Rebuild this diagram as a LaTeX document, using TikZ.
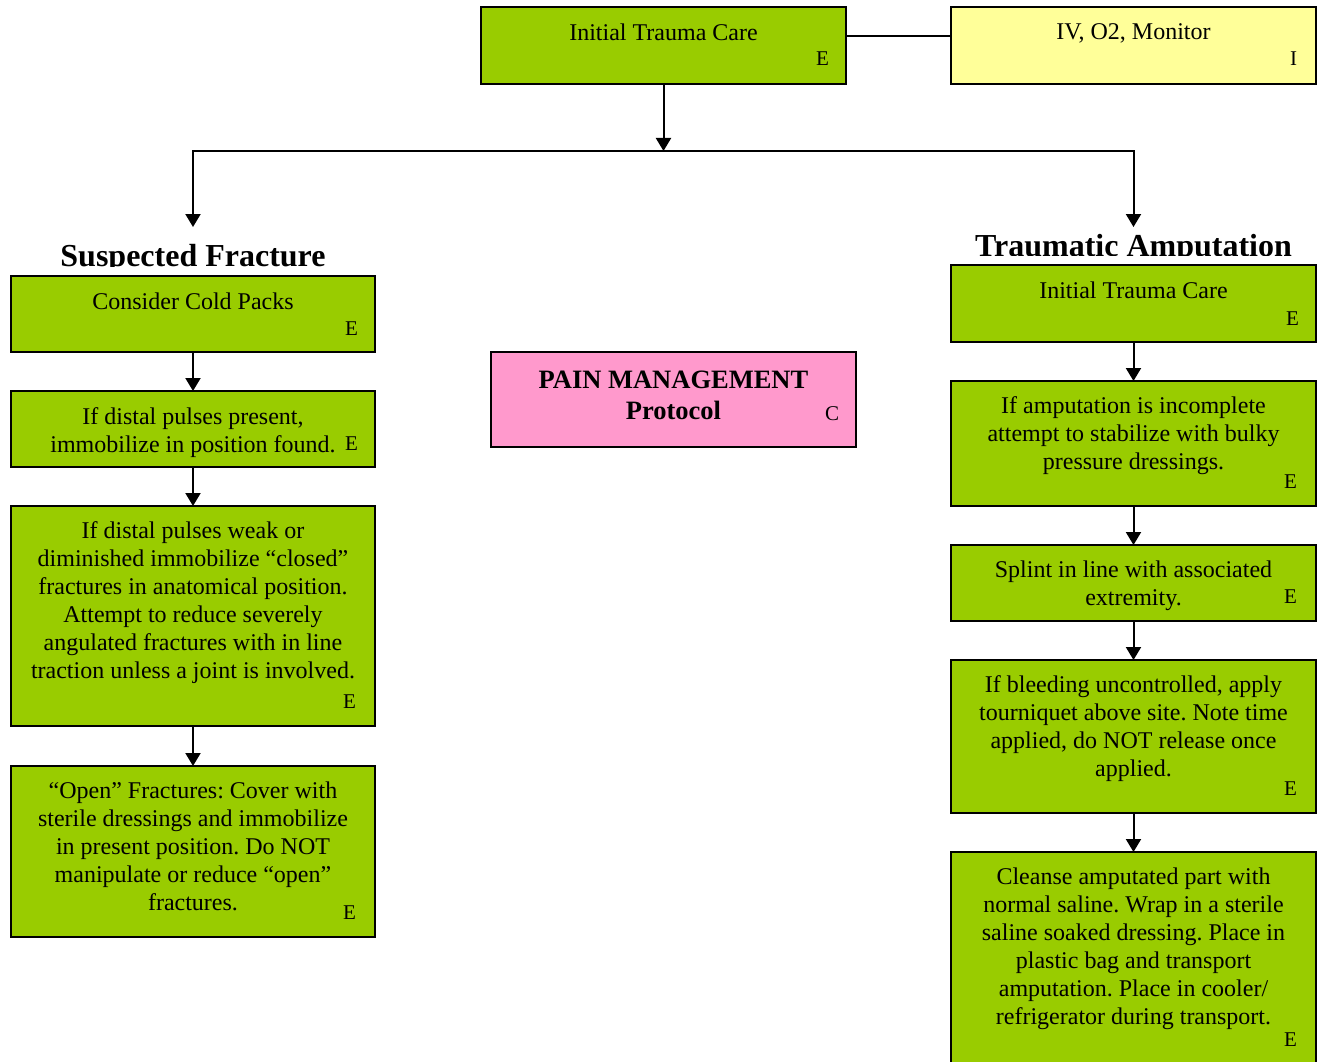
\documentclass[tikz,border=0pt]{standalone}
\usepackage{fontspec}
\setmainfont{Liberation Serif}
\usetikzlibrary{arrows.meta,positioning}

\definecolor{actgreen}{HTML}{99CC00}
\definecolor{ivyellow}{HTML}{FFFF99}
\definecolor{painpink}{HTML}{FF99CC}

\frenchspacing

\begin{document}
\begin{tikzpicture}[
		x=1pt, y=-1pt,
		>={Triangle[width=15pt,length=13pt]},
		node distance=39pt,
		line width=2pt,
		stepbox/.style={
			draw,
			fill=actgreen,
			minimum width=365pt,
			inner sep=0pt,
			outer sep=0pt
		},
		txt/.style={
			font=\fontsize{24}{28}\selectfont,
			align=center,
			inner sep=0pt
		},
		boldtxt/.style={
			txt,
			font=\bfseries\fontsize{26.5}{31}\selectfont
		},
		tag/.style={
			font=\fontsize{21}{24}\selectfont,
			anchor=base east,
			inner sep=0pt
		},
		head/.style={
			font=\bfseries\fontsize{32}{36}\selectfont,
			anchor=base,
			inner sep=0pt
		}
		]
		\useasboundingbox (0,0) rectangle (1320,1062);
		
		% Top row: trauma care and IV
		\node[stepbox, minimum height=77pt] (itc) at (663.5,45.5) {};
		\node[txt, below=16pt of itc.north] (itctxt) {Initial Trauma Care};
		\node[tag] (itctag) at ([xshift=-16pt,yshift=18pt]itc.south east) {E};
		
		\node[stepbox, fill=ivyellow, minimum height=77pt] (iv) at (1133.5,45.5) {};
		\node[txt, below=16pt of iv.north] (ivtxt) {IV, O2, Monitor};
		\node[tag] (ivtag) at ([xshift=-18pt,yshift=18pt]iv.south east) {I};
		
		\draw ([yshift=9.5pt]itc.east) -- ([yshift=9.5pt]iv.west);
		
		% Split into the two branches
		\coordinate (split) at (663.5,151);
		\coordinate (fracin) at (193,227);
		\coordinate (ampin) at (1133.5,227);
		\draw[->] (itc.south) -- (split);
		\draw[->] (split) -| (fracin);
		\draw[->] (split) -| (ampin);
		
		% Branch headings (cut off at the bottom)
		\begin{scope}
			\clip (0,200) rectangle (400,266);
			\node[head] (frachd) at (193,266) {Suspected Fracture};
		\end{scope}
		\begin{scope}
			\clip (940,200) rectangle (1320,255.5);
			\node[head] (amphd) at (1133.5,256) {Traumatic Amputation};
		\end{scope}
		
		% Fracture column
		\node[stepbox, minimum width=364pt, minimum height=76pt] (cold) at (193,314) {};
		\node[stepbox, minimum width=364pt, minimum height=76pt, below=of cold] (pulse) {};
		\node[stepbox, minimum width=364pt, minimum height=220pt, below=of pulse] (weak) {};
		\node[stepbox, minimum width=364pt, minimum height=171pt, below=40pt of weak] (open) {};
		
		\node[txt, below=16pt of cold.north] (coldtxt) {Consider Cold Packs};
		\node[txt, below=16pt of pulse.north] (pulsetxt) {If distal pulses present,\\ immobilize in position found.};
		\node[txt, below=15pt of weak.north] (weaktxt) {If distal pulses weak or\\
			diminished immobilize “closed”\\
			fractures in anatomical position.\\
			Attempt to reduce severely\\
			angulated fractures with in line\\
			traction unless a joint is involved.};
		\node[txt, below=15pt of open.north] (opentxt) {“Open” Fractures: Cover with\\
			sterile dressings and immobilize\\
			in present position. Do NOT\\
			manipulate or reduce “open”\\
			fractures.};
		
		\node[tag] (coldtag) at ([xshift=-16pt,yshift=17pt]cold.south east) {E};
		\node[tag] (pulsetag) at ([xshift=-16pt,yshift=17pt]pulse.south east) {E};
		\node[tag] (weaktag) at ([xshift=-18pt,yshift=18pt]weak.south east) {E};
		\node[tag] (opentag) at ([xshift=-18pt,yshift=18pt]open.south east) {E};
		
		\draw[->] (cold) -- (pulse);
		\draw[->] (pulse) -- (weak);
		\draw[->] (weak) -- (open);
		
		% Pain management
		\node[stepbox, fill=painpink, minimum height=95pt] (pain) at (673.5,399.5) {};
		\node[boldtxt, below=18pt of pain.north] (paintxt) {PAIN MANAGEMENT\\ Protocol};
		\node[tag] (paintag) at ([xshift=-16pt,yshift=27pt]pain.south east) {C};
		
		% Amputation column
		\node[stepbox, minimum height=77pt] (amp) at (1133.5,303.5) {};
		\node[stepbox, minimum height=125pt, below=of amp] (incomp) {};
		\node[stepbox, minimum height=76pt, below=of incomp] (splint) {};
		\node[stepbox, minimum height=153pt, below=of splint] (bleed) {};
		\node[stepbox, minimum height=213pt, below=of bleed] (cleanse) {};
		
		\node[txt, below=16pt of amp.north] (amptxt) {Initial Trauma Care};
		\node[txt, below=15pt of incomp.north] (incomptxt) {If amputation is incomplete\\
			attempt to stabilize with bulky\\
			pressure dressings.};
		\node[txt, below=15pt of splint.north] (splinttxt) {Splint in line with associated\\ extremity.};
		\node[txt, below=15pt of bleed.north] (bleedtxt) {If bleeding uncontrolled, apply\\
			tourniquet above site. Note time\\
			applied, do NOT release once\\
			applied.};
		\node[txt, below=15pt of cleanse.north] (cleansetxt) {Cleanse amputated part with\\
			normal saline. Wrap in a sterile\\
			saline soaked dressing. Place in\\
			plastic bag and transport\\
			amputation. Place in cooler/\\
			refrigerator during transport.};
		
		\node[tag] (amptag) at ([xshift=-16pt,yshift=17pt]amp.south east) {E};
		\node[tag] (incomptag) at ([xshift=-18pt,yshift=18pt]incomp.south east) {E};
		\node[tag] (splinttag) at ([xshift=-18pt,yshift=18pt]splint.south east) {E};
		\node[tag] (bleedtag) at ([xshift=-18pt,yshift=18pt]bleed.south east) {E};
		\node[tag] (cleansetag) at ([xshift=-18pt,yshift=19pt]cleanse.south east) {E};
		
		\draw[->] (amp) -- (incomp);
		\draw[->] (incomp) -- (splint);
		\draw[->] (splint) -- (bleed);
		\draw[->] (bleed) -- (cleanse);
		
	\end{tikzpicture}
\end{document}
